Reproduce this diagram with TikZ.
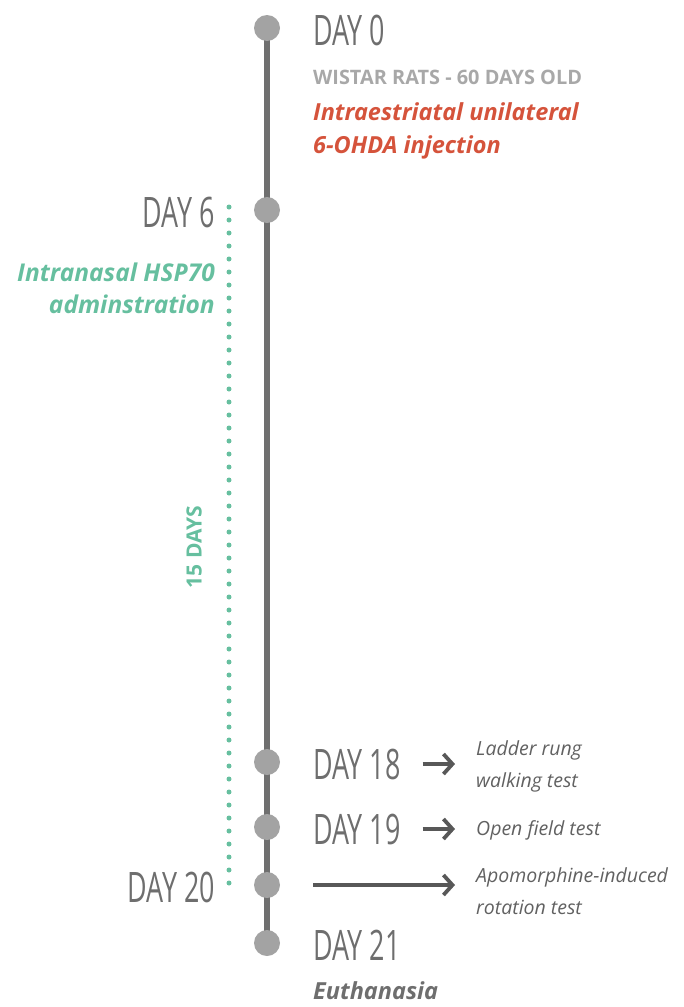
\documentclass[tikz,border=0pt]{standalone}
\usepackage{fontspec}
\setmainfont{Open Sans}
\newfontfamily\dayfont[FakeStretch=0.64]{Open Sans}
\usetikzlibrary{arrows.meta}
\definecolor{axisgrey}{HTML}{6F6F6F}
\definecolor{dotgrey}{HTML}{A3A3A3}
\definecolor{daygrey}{HTML}{6E6E6E}
\definecolor{ratgrey}{HTML}{A8A8A8}
\definecolor{testgrey}{HTML}{616161}
\definecolor{ohdared}{HTML}{D5533B}
\definecolor{hspgreen}{HTML}{66BF9F}
\tikzset{
  daylabel/.style={inner sep=0pt, text=daygrey, font=\dayfont\fontsize{42}{42}\selectfont},
  testlabel/.style={inner sep=0pt, anchor=west, align=left, text=testgrey, font=\itshape\fontsize{19.5}{32}\selectfont},
  testarrow/.style={-{Straight Barb[length=9pt,width=20pt]}, line width=3.8pt, color=daygrey!80!black}
}

\begin{document}
\begin{tikzpicture}[x=1pt,y=-1pt]
    \useasboundingbox (0,0) rectangle (683,1007);
    % timeline points
    \coordinate (d0) at (267,28);
    \coordinate (d6) at (267,210);
    \coordinate (d18) at (267,762);
    \coordinate (d19) at (267,827);
    \coordinate (d20) at (267,885);
    \coordinate (d21) at (267,943);
    \draw [line width=6pt, color=axisgrey] (d0) -- (d21);
    \foreach \p in {d0,d6,d18,d19,d20,d21}
        \fill [dotgrey] (\p) circle (13);
    % treatment period
    \draw [hspgreen, line width=5pt, line cap=round, dash pattern=on 0pt off 13pt] (229,207) -- (229,886);
    \draw (194,547) node[rotate=90, inner sep=0pt, text=hspgreen, font=\bfseries\fontsize{21}{21}\selectfont] (period) {15 DAYS};
    % day labels
    \draw (313,30) node[daylabel, anchor=west] (day0) {DAY 0};
    \draw (215,212) node[daylabel, anchor=east] (day6) {DAY 6};
    \draw (313,764) node[daylabel, anchor=west] (day18) {DAY 18};
    \draw (313,829) node[daylabel, anchor=west] (day19) {DAY 19};
    \draw (215,887) node[daylabel, anchor=east] (day20) {DAY 20};
    \draw (313,945) node[daylabel, anchor=west] (day21) {DAY 21};
    % what happens on each day
    \draw (313,77) node[anchor=west, inner sep=0pt, text=ratgrey, font=\bfseries\fontsize{19.9}{20}\selectfont] (rats) {WISTAR RATS - 60 DAYS OLD};
    \draw (313,131) node[anchor=west, inner sep=0pt, align=left, text=ohdared, font=\bfseries\itshape\fontsize{23.5}{33}\selectfont] (ohda) {Intraestriatal unilateral\\6-OHDA injection};
    \draw (215,288) node[anchor=east, inner sep=0pt, align=right, text=hspgreen, font=\bfseries\itshape\fontsize{24.5}{32}\selectfont] (hsp) {Intranasal HSP70\\adminstration};
    \draw (476,766) node[testlabel] (ladder) {Ladder rung\\walking test};
    \draw (476,830) node[testlabel] (field) {Open field test};
    \draw (476,891) node[testlabel] (apo) {Apomorphine-induced\\rotation test};
    \draw (313,991) node[anchor=west, inner sep=0pt, text=daygrey, font=\bfseries\itshape\fontsize{23.5}{24}\selectfont] (euth) {Euthanasia};
    % arrows to the tests
    \draw [testarrow, shorten <=22pt, shorten >=21pt] (day18.east) -- (day18.east -| ladder.west);
    \draw [testarrow, shorten <=22pt, shorten >=21pt] (day19.east) -- (day19.east -| field.west);
    \draw [testarrow, shorten <=46pt, shorten >=21pt] (d20) -- (d20 -| apo.west);
\end{tikzpicture}
\end{document}
